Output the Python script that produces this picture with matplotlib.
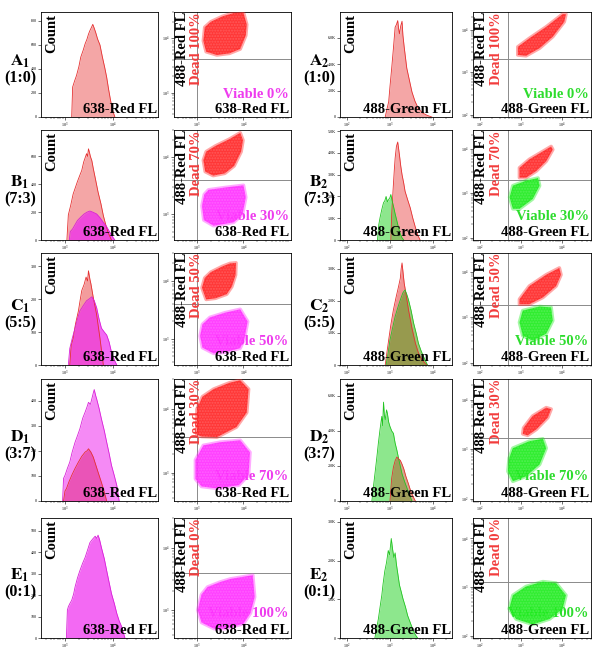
import matplotlib
matplotlib.use('Agg')
import matplotlib.pyplot as plt
import numpy as np
from matplotlib.patches import Polygon
from matplotlib.ticker import FixedLocator, LogLocator, NullFormatter, LogFormatterMathtext

plt.rcParams['mathtext.fontset'] = 'stix'
plt.rcParams['font.family'] = ['Liberation Serif', 'DejaVu Serif']

W, H = 599, 659

# ---------------- labels ----------------
row_letters = ['A', 'B', 'C', 'D', 'E']
ratios = ['(1:0)', '(7:3)', '(5:5)', '(3:7)', '(0:1)']
dead_labels = ['Dead 100%', 'Dead 70%', 'Dead 50%', 'Dead 30%', 'Dead 0%']
viable_labels = ['Viable 0%', 'Viable 30%', 'Viable 50%', 'Viable 70%', 'Viable 100%']
red_fl = '638-Red FL'
green_fl = '488-Green FL'
red488 = '488-Red FL'
count_label = 'Count'

# ---------------- histogram data (log10 intensity, counts) ----------------
# column 1 : 638-Red FL
A1_red_x = [3.14, 3.16, 3.20, 3.24, 3.29, 3.33, 3.38, 3.42, 3.46, 3.49, 3.52, 3.55, 3.58, 3.61, 3.64, 3.68, 3.73, 3.78, 3.83, 3.87, 3.91, 3.95, 3.99, 4.04]
A1_red_y = [0, 250, 300, 345, 420, 500, 557, 610, 650, 690, 720, 745, 772, 740, 705, 650, 600, 500, 410, 330, 230, 140, 60, 0]

B1_red_x = [3.04, 3.07, 3.12, 3.17, 3.21, 3.26, 3.31, 3.35, 3.39, 3.42, 3.45, 3.47, 3.49, 3.51, 3.53, 3.56, 3.59, 3.64, 3.69, 3.75, 3.80, 3.85, 3.90, 3.97]
B1_red_y = [0, 180, 250, 330, 370, 420, 465, 500, 560, 590, 620, 600, 655, 630, 600, 570, 514, 430, 344, 260, 175, 110, 53, 0]
B1_mag_x = [3.09, 3.11, 3.16, 3.21, 3.26, 3.33, 3.40, 3.46, 3.52, 3.58, 3.66, 3.73, 3.80, 3.87, 3.94, 4.00, 4.04]
B1_mag_y = [0, 60, 80, 110, 140, 165, 187, 200, 208, 200, 187, 160, 126, 95, 53, 20, 0]

C1_red_x = [3.10, 3.13, 3.17, 3.22, 3.28, 3.32, 3.35, 3.40, 3.44, 3.47, 3.49, 3.52, 3.54, 3.59, 3.66, 3.73, 3.80]
C1_red_y = [0, 60, 81, 125, 164, 200, 226, 245, 267, 255, 286, 260, 247, 205, 153, 81, 0]
C1_mag_x = [3.07, 3.10, 3.15, 3.21, 3.26, 3.31, 3.38, 3.45, 3.50, 3.56, 3.61, 3.66, 3.71, 3.76, 3.82, 3.87, 3.92, 3.97, 4.03, 4.08]
C1_mag_y = [0, 50, 80, 112, 140, 164, 180, 195, 200, 207, 195, 174, 140, 112, 100, 91, 70, 39, 15, 0]

D1_mag_x = [2.95, 2.97, 3.00, 3.05, 3.10, 3.15, 3.21, 3.26, 3.31, 3.37, 3.42, 3.46, 3.49, 3.53, 3.56, 3.59, 3.61, 3.64, 3.66, 3.71, 3.76, 3.82, 3.87, 3.92, 3.97, 4.03, 4.08, 4.13]
D1_mag_y = [0, 90, 102, 130, 155, 195, 234, 260, 287, 330, 354, 375, 393, 385, 407, 430, 444, 420, 407, 370, 327, 280, 234, 190, 142, 100, 62, 0]
D1_red_x = [2.97, 3.00, 3.03, 3.08, 3.14, 3.21, 3.28, 3.35, 3.42, 3.46, 3.49, 3.54, 3.59, 3.64, 3.69, 3.75, 3.80, 3.87]
D1_red_y = [0, 40, 49, 75, 102, 130, 155, 178, 195, 200, 208, 195, 175, 145, 115, 80, 49, 0]

E1_mag_x = [3.03, 3.05, 3.07, 3.10, 3.14, 3.18, 3.21, 3.26, 3.31, 3.37, 3.42, 3.47, 3.52, 3.57, 3.63, 3.66, 3.69, 3.72, 3.76, 3.82, 3.87, 3.92, 3.97, 4.03, 4.08, 4.13, 4.18, 4.25]
E1_mag_y = [0, 130, 146, 160, 176, 205, 238, 280, 314, 350, 376, 410, 445, 460, 475, 465, 480, 460, 422, 370, 314, 260, 207, 160, 115, 80, 54, 0]

# column 3 : 488-Green FL
A2_red_x = [2.89, 2.93, 2.97, 3.00, 3.04, 3.08, 3.12, 3.15, 3.18, 3.20, 3.22, 3.25, 3.28, 3.30, 3.33, 3.36, 3.39, 3.45, 3.51, 3.58, 3.66, 3.76, 3.86, 3.97]
A2_red_y = [0, 600, 1150, 2300, 3700, 5200, 6800, 7000, 7300, 6700, 6300, 6900, 7250, 6200, 5300, 4500, 3700, 2800, 1900, 1200, 640, 300, 130, 0]

B2_red_x = [3.02, 3.04, 3.07, 3.10, 3.12, 3.15, 3.18, 3.20, 3.22, 3.25, 3.28, 3.32, 3.35, 3.41, 3.47, 3.53, 3.59, 3.65, 3.70]
B2_red_y = [0, 1200, 2240, 3200, 3760, 4300, 4500, 4200, 3900, 3400, 3000, 2600, 2240, 1850, 1480, 1000, 580, 200, 0]
B2_grn_x = [2.71, 2.74, 2.77, 2.81, 2.85, 2.88, 2.91, 2.94, 2.97, 3.00, 3.02, 3.05, 3.08, 3.12, 3.16, 3.20, 3.24, 3.28, 3.32]
B2_grn_y = [0, 700, 1030, 1400, 1710, 1800, 2000, 1750, 1860, 1950, 2090, 1800, 1560, 1200, 880, 550, 270, 100, 0]

C2_red_x = [2.89, 2.93, 2.97, 3.02, 3.08, 3.14, 3.20, 3.24, 3.26, 3.28, 3.31, 3.33, 3.38, 3.43, 3.51, 3.59, 3.66, 3.74, 3.86]
C2_red_y = [0, 400, 780, 1250, 1720, 2100, 2450, 2700, 3000, 3180, 2800, 2550, 2150, 1720, 1150, 680, 380, 160, 0]
C2_grn_x = [2.91, 2.96, 3.00, 3.06, 3.12, 3.18, 3.24, 3.30, 3.35, 3.39, 3.43, 3.49, 3.55, 3.61, 3.66, 3.72, 3.78, 3.87]
C2_grn_y = [0, 400, 780, 1150, 1510, 1780, 2030, 2250, 2340, 2200, 2030, 1700, 1300, 980, 680, 450, 260, 0]

D2_grn_x = [2.58, 2.62, 2.66, 2.70, 2.73, 2.77, 2.81, 2.83, 2.85, 2.87, 2.89, 2.92, 2.94, 2.97, 3.00, 3.04, 3.08, 3.12, 3.16, 3.22, 3.28, 3.34, 3.39, 3.45, 3.51]
D2_grn_y = [0, 900, 1740, 2600, 3290, 4100, 4830, 4300, 5640, 4900, 4640, 5200, 5000, 4500, 4250, 4000, 3860, 3300, 2900, 2200, 1550, 1100, 770, 350, 0]
D2_red_x = [3.00, 3.04, 3.08, 3.12, 3.16, 3.20, 3.24, 3.28, 3.32, 3.37, 3.43, 3.49, 3.55, 3.59]
D2_red_y = [0, 1300, 1930, 2300, 2510, 2400, 2320, 2100, 1840, 1400, 970, 500, 190, 0]

E2_grn_x = [2.65, 2.69, 2.73, 2.77, 2.81, 2.84, 2.88, 2.92, 2.96, 2.99, 3.03, 3.06, 3.09, 3.12, 3.15, 3.19, 3.22, 3.26, 3.30, 3.36, 3.41, 3.47, 3.53, 3.58, 3.64]
E2_grn_y = [0, 250, 490, 800, 1100, 1400, 1730, 1950, 2260, 2150, 2570, 2300, 2080, 2200, 1900, 1600, 1370, 1200, 1020, 800, 580, 400, 220, 100, 0]

# ---------------- scatter clouds (log10 x, log10 y outline vertices) ----------------
A1_dead = ([3.14, 3.17, 3.30, 3.55, 3.79, 4.00, 4.07, 4.05, 3.93, 3.70, 3.43, 3.20],
           [3.95, 4.20, 4.30, 4.40, 4.46, 4.47, 4.25, 4.05, 3.80, 3.72, 3.69, 3.75])
B1_dead = ([3.14, 3.20, 3.40, 3.70, 3.93, 3.99, 3.95, 3.80, 3.60, 3.35, 3.18],
           [3.95, 4.10, 4.20, 4.32, 4.43, 4.30, 4.10, 3.85, 3.72, 3.68, 3.75])
B1_live = ([3.11, 3.16, 3.25, 3.60, 4.00, 4.05, 3.98, 3.79, 3.36, 3.15],
           [3.15, 3.35, 3.43, 3.47, 3.51, 3.30, 3.00, 2.86, 2.80, 2.90])
C1_dead = ([3.11, 3.17, 3.30, 3.55, 3.71, 3.84, 3.83, 3.75, 3.64, 3.40, 3.20],
           [3.88, 4.05, 4.15, 4.25, 4.30, 4.31, 4.10, 3.90, 3.77, 3.70, 3.68])
C1_live = ([3.07, 3.12, 3.28, 3.60, 3.93, 4.09, 4.02, 3.93, 3.60, 3.36, 3.12],
           [3.05, 3.25, 3.37, 3.45, 3.51, 3.30, 3.00, 2.84, 2.77, 2.75, 2.85])
D1_dead = ([3.00, 3.00, 3.12, 3.36, 3.70, 3.93, 4.11, 4.07, 3.85, 3.43, 3.10],
           [3.60, 4.00, 4.20, 4.32, 4.42, 4.46, 4.32, 3.95, 3.72, 3.56, 3.57])
D1_live = ([2.97, 2.97, 3.14, 3.50, 3.93, 4.14, 4.11, 3.90, 3.43, 3.10],
           [2.90, 3.20, 3.43, 3.48, 3.51, 3.32, 2.96, 2.80, 2.75, 2.78])
E1_live = ([3.02, 3.10, 3.23, 3.50, 3.72, 4.20, 4.24, 4.15, 4.00, 3.60, 3.37, 3.10],
           [3.00, 3.25, 3.37, 3.45, 3.50, 3.56, 3.21, 2.95, 2.78, 2.70, 2.70, 2.80])

A2_dead = ([2.92, 3.20, 3.61, 4.01, 4.09, 4.05, 3.77, 3.45, 3.12, 2.92],
           [3.60, 3.80, 4.07, 4.37, 4.37, 4.19, 3.84, 3.57, 3.39, 3.41])
B2_dead = ([2.96, 3.20, 3.53, 3.73, 3.77, 3.61, 3.37, 3.12, 2.96],
           [3.57, 3.76, 3.94, 4.05, 3.98, 3.72, 3.50, 3.35, 3.35])
B2_live = ([2.80, 3.12, 3.41, 3.45, 3.28, 2.96, 2.80, 2.72],
           [3.17, 3.28, 3.34, 3.17, 2.87, 2.65, 2.65, 2.91])
C2_dead = ([2.96, 3.20, 3.61, 3.93, 3.97, 3.85, 3.53, 3.20, 2.96],
           [3.40, 3.69, 3.94, 4.09, 3.94, 3.69, 3.44, 3.29, 3.29])
C2_live = ([3.04, 3.45, 3.73, 3.77, 3.61, 3.28, 3.04, 2.96],
           [3.15, 3.24, 3.22, 2.93, 2.64, 2.49, 2.60, 2.89])
D2_dead = ([3.06, 3.28, 3.61, 3.73, 3.65, 3.37, 3.16, 3.04],
           [3.43, 3.67, 3.84, 3.81, 3.64, 3.40, 3.28, 3.31])
D2_live = ([2.80, 3.20, 3.53, 3.61, 3.45, 3.12, 2.80, 2.68, 2.71],
           [3.02, 3.16, 3.21, 3.02, 2.69, 2.45, 2.35, 2.55, 2.82])
E2_live = ([2.80, 3.12, 3.53, 3.85, 4.09, 4.01, 3.69, 3.28, 2.88, 2.71],
           [2.83, 3.01, 3.11, 3.08, 2.83, 2.55, 2.34, 2.23, 2.34, 2.55])

# quadrant gates (log10)
gate_x_red = 3.0
gate_y_red = [3.62, 3.60, 3.60, 3.57, 3.59]
gate_x_grn = 2.67
gate_y_grn = [3.32, 3.29, 3.27, 3.23, 3.10]

# histogram y ranges and ticks
col1_ymax = [875, 790, 340, 486, 560]
col1_yticks = [[0, 200, 400, 600, 800], [0, 200, 400, 600], [0, 100, 200, 300],
               [0, 100, 200, 300, 400], [0, 100, 200, 300, 400, 500]]
col3_ymax = [7950, 5050, 3490, 6960, 3100]
col3_yticks = [[0, 2000, 4000, 6000], [0, 1000, 2000, 3000, 4000, 5000], [0, 1000, 2000, 3000],
               [0, 2000, 4000, 6000], [0, 1000, 2000, 3000]]

# ---------------- layout (pixels) ----------------
row_top = [12, 130, 253, 379, 518]
row_bot = [117, 240, 365, 501, 638]
col_lr = [(41, 158), (174, 291), (340, 452), (473, 591)]

RED_F, RED_E = '#e83a3a', '#e53030'
MAG_F, MAG_E = '#ee2aee', '#d820d8'
GRN_F, GRN_E = '#2fd42f', '#22c422'
DOT_RED, DOT_MAG, DOT_GRN = '#ff2626', '#ff30ff', '#1eec1e'
TXT_RED, TXT_MAG, TXT_GRN = '#f23c3c', '#ee3cee', '#2edc2e'

fig = plt.figure(figsize=(W / 100, H / 100), dpi=100)

BOLD = dict(fontweight='bold', family=['Liberation Serif', 'DejaVu Serif'])


def make_ax(r, c):
    l, rr = col_lr[c]
    t, b = row_top[r], row_bot[r]
    ax = fig.add_axes([l / W, 1 - b / H, (rr - l) / W, (b - t) / H])
    for s in ax.spines.values():
        s.set_linewidth(0.6)
    ax.tick_params(labelsize=3, length=2, width=0.4, pad=1)
    ax.tick_params(which='minor', length=1.2, width=0.3)
    return ax


def style_logx(ax, lo, hi, majors):
    ax.set_xscale('log')
    ax.set_xlim(10 ** lo, 10 ** hi)
    ax.xaxis.set_major_locator(FixedLocator([10.0 ** m for m in majors]))
    ax.xaxis.set_major_formatter(LogFormatterMathtext())
    ax.xaxis.set_minor_locator(LogLocator(base=10, subs=np.arange(2, 10)))
    ax.xaxis.set_minor_formatter(NullFormatter())


def style_logy(ax, lo, hi, majors):
    ax.set_yscale('log')
    ax.set_ylim(10 ** lo, 10 ** hi)
    ax.yaxis.set_major_locator(FixedLocator([10.0 ** m for m in majors]))
    ax.yaxis.set_major_formatter(LogFormatterMathtext())
    ax.yaxis.set_minor_locator(LogLocator(base=10, subs=np.arange(2, 10)))
    ax.yaxis.set_minor_formatter(NullFormatter())


def hist_panel(r, c, series, xlo, xhi, xmaj, ymax, yticks, kfmt, xlabel):
    ax = make_ax(r, c)
    for x, y, fc, ec, a in series:
        X = 10 ** np.asarray(x)
        ax.fill_between(X, 0, y, color=fc, alpha=a, lw=0, zorder=2)
        ax.plot(X, y, color=ec, lw=0.6, zorder=3)
    style_logx(ax, xlo, xhi, xmaj)
    ax.set_ylim(0, ymax)
    ax.set_yticks(yticks)
    if kfmt:
        ax.set_yticklabels(['0'] + ['%.1fK' % (v / 1000) for v in yticks[1:]])
    ax.text(0.035, 0.98, count_label, transform=ax.transAxes, rotation=90,
            ha='left', va='top', fontsize=10.5, color='black', zorder=5, **BOLD)
    ax.text(0.995, 0.01, xlabel, transform=ax.transAxes, ha='right', va='bottom',
            fontsize=10.5, color='black', zorder=5, **BOLD)
    return ax


def scatter_panel(r, c, clouds, xlo, xhi, xmaj, ylo, yhi, ymaj, gx, gy,
                  dead_txt, live_txt, live_col, xlabel):
    ax = make_ax(r, c)
    style_logx(ax, xlo, xhi, xmaj)
    style_logy(ax, ylo, yhi, ymaj)
    ax.axvline(10 ** gx, color='#8a8a8a', lw=0.7, zorder=1)
    ax.axhline(10 ** gy, color='#8a8a8a', lw=0.7, zorder=1)
    for (xs, ys), col in clouds:
        pts = np.column_stack([10 ** np.asarray(xs), 10 ** np.asarray(ys)])
        ax.add_patch(Polygon(pts, closed=True, facecolor=col, edgecolor='none',
                             alpha=0.92, zorder=3))
        ax.add_patch(Polygon(pts, closed=True, facecolor='none', edgecolor=col,
                             lw=2.6, alpha=0.4, joinstyle='round', zorder=3))
        ax.add_patch(Polygon(pts, closed=True, facecolor='none', edgecolor='white',
                             lw=0, hatch='......', alpha=0.16, zorder=3))
    ax.text(0.02, 1.0, red488, transform=ax.transAxes, rotation=90,
            ha='left', va='top', fontsize=10.5, color='black', zorder=2, **BOLD)
    ax.text(0.14, 1.0, dead_txt, transform=ax.transAxes, rotation=90,
            ha='left', va='top', fontsize=10.5, color=TXT_RED, zorder=2, **BOLD)
    ax.text(0.98, 0.15, live_txt, transform=ax.transAxes, ha='right', va='bottom',
            fontsize=10.5, color=live_col, zorder=2, **BOLD)
    ax.text(0.98, 0.01, xlabel, transform=ax.transAxes, ha='right', va='bottom',
            fontsize=10.5, color='black', zorder=4, **BOLD)
    return ax


col1_series = [
    [(A1_red_x, A1_red_y, RED_F, RED_E, 0.45)],
    [(B1_red_x, B1_red_y, RED_F, RED_E, 0.45), (B1_mag_x, B1_mag_y, MAG_F, MAG_E, 0.75)],
    [(C1_red_x, C1_red_y, RED_F, RED_E, 0.5), (C1_mag_x, C1_mag_y, MAG_F, MAG_E, 0.7)],
    [(D1_mag_x, D1_mag_y, MAG_F, MAG_E, 0.55), (D1_red_x, D1_red_y, '#e0207a', RED_E, 0.5)],
    [(E1_mag_x, E1_mag_y, MAG_F, MAG_E, 0.7)],
]
col3_series = [
    [(A2_red_x, A2_red_y, RED_F, RED_E, 0.45)],
    [(B2_red_x, B2_red_y, RED_F, RED_E, 0.45), (B2_grn_x, B2_grn_y, GRN_F, GRN_E, 0.55)],
    [(C2_red_x, C2_red_y, RED_F, RED_E, 0.55), (C2_grn_x, C2_grn_y, '#5aa020', GRN_E, 0.6)],
    [(D2_grn_x, D2_grn_y, GRN_F, GRN_E, 0.55), (D2_red_x, D2_red_y, '#b06030', RED_E, 0.55)],
    [(E2_grn_x, E2_grn_y, GRN_F, GRN_E, 0.55)],
]
col2_clouds = [
    [(A1_dead, DOT_RED)],
    [(B1_dead, DOT_RED), (B1_live, DOT_MAG)],
    [(C1_dead, DOT_RED), (C1_live, DOT_MAG)],
    [(D1_dead, DOT_RED), (D1_live, DOT_MAG)],
    [(E1_live, DOT_MAG)],
]
col4_clouds = [
    [(A2_dead, DOT_RED)],
    [(B2_dead, DOT_RED), (B2_live, DOT_GRN)],
    [(C2_dead, DOT_RED), (C2_live, DOT_GRN)],
    [(D2_dead, DOT_RED), (D2_live, DOT_GRN)],
    [(E2_live, DOT_GRN)],
]

for r in range(5):
    hist_panel(r, 0, col1_series[r], 2.5, 4.94, [3, 4], col1_ymax[r], col1_yticks[r], False, red_fl)
    scatter_panel(r, 1, col2_clouds[r], 2.51, 5.02, [3, 4], 2.55, 4.48, [3, 4],
                  gate_x_red, gate_y_red[r], dead_labels[r], viable_labels[r], TXT_MAG, red_fl)
    hist_panel(r, 2, col3_series[r], 1.84, 4.44, [2, 3, 4], col3_ymax[r], col3_yticks[r], True, green_fl)
    scatter_panel(r, 3, col4_clouds[r], 1.83, 4.70, [2, 3, 4], 1.95, 4.42, [2, 3, 4],
                  gate_x_grn, gate_y_grn[r], dead_labels[r], viable_labels[r], TXT_GRN, green_fl)

    yc = (row_top[r] + row_bot[r]) / 2
    for cx, idx in ((20, '1'), (319, '2')):
        fig.text(cx / W, 1 - (yc - 3) / H, r'$\mathbf{%s}_{\mathbf{%s}}$' % (row_letters[r], idx),
                 ha='center', va='center', fontsize=12.5, color='black')
        fig.text(cx / W, 1 - (yc + 14) / H, ratios[r], ha='center', va='center',
                 fontsize=11.5, color='black', **BOLD)

fig.savefig('out.png', dpi=100)
